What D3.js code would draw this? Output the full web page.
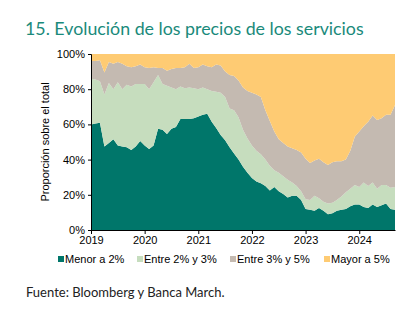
<!DOCTYPE html>
<html>
<head>
<meta charset="utf-8">
<script src="https://cdn.jsdelivr.net/npm/d3@7"></script>
<style>
  body { margin: 0; background: #fff; }
  svg { display: block; }
</style>
</head>
<body>
<svg id="chart" width="410" height="326"></svg>
<script>
// monthly shares (%), Jan 2019 .. Sep 2024
const years = ['2019', '2020', '2021', '2022', '2023', '2024'];
const seriesNames = ['Menor a 2%', 'Entre 2% y 3%', 'Entre 3% y 5%', 'Mayor a 5%'];

const menor2 = [60, 60.5, 61, 47.5, 49.5, 51.5, 48, 47.5, 47, 45.5, 47.5, 50.5,
  48, 46, 48, 57.5, 57, 54.5, 57.5, 58.5, 63, 63, 63, 63.5,
  64.5, 65.5, 66, 61.5, 58, 54, 51, 47, 43.5, 40, 36, 32.5,
  29.5, 27.5, 26.5, 25, 22.5, 24.5, 22, 20.5, 18.5, 19.5, 19.5, 17,
  12, 11.5, 11, 12.5, 11, 9, 9.5, 11, 11.5, 12, 13.5, 14.5,
  14.5, 13, 12.5, 14.5, 13, 14, 15, 12, 11.5];
const entre2y3 = [26, 25, 23.5, 29.5, 34, 28.5, 36, 32.5, 35.5, 36, 35.5, 32.5,
  35, 34, 36, 30.5, 26, 27.5, 23.5, 21.5, 18.5, 17.5, 18, 17,
  15.5, 15.5, 14, 17.5, 20.5, 24, 24.5, 22, 24.5, 24, 21, 19.5,
  18.5, 17.5, 16.5, 15, 14, 9.5, 10.5, 10, 10, 7.5, 5.5, 5,
  5.5, 5.5, 8.5, 5.5, 5, 6, 6, 6, 7.5, 9.5, 10, 11,
  10, 14, 12.5, 12.5, 10.5, 11.5, 10.5, 12, 13];
const entre3y5 = [10, 10.5, 12, 12.5, 12, 14.5, 11.5, 14.5, 10.5, 11, 10, 11,
  9.5, 12, 8.5, 4, 9, 8.5, 10.5, 12, 10.5, 12, 13.5, 11.5,
  12.5, 13, 13, 13.5, 15.5, 15.5, 14.5, 19, 19.5, 21, 24, 27,
  30, 32, 32.5, 28, 25.5, 22, 19, 19, 19, 19.5, 20.5, 22,
  23, 21, 20, 22.5, 22.5, 22, 23, 22, 20, 18.5, 21.5, 27.5,
  31.5, 32, 36.5, 38, 39, 38, 40, 41.5, 46.5];
const mayor5 = [4, 4, 3.5, 10.5, 4.5, 5.5, 4.5, 5.5, 7, 7.5, 7, 6,
  7.5, 8, 7.5, 8, 8, 9.5, 8.5, 8, 8, 7.5, 5.5, 8,
  7.5, 6, 7, 7.5, 6, 6.5, 10, 12, 12.5, 15, 19, 21,
  22, 23, 24.5, 32, 38, 44, 48.5, 50.5, 52.5, 53.5, 54.5, 56,
  59.5, 62, 60.5, 59.5, 61.5, 63, 61.5, 61, 61, 60, 55, 47,
  44, 41, 38.5, 35, 37.5, 36.5, 34.5, 34.5, 29];

const colors = ['#00766a', '#c6ddbe', '#c4bab1', '#fecb73'];

const rows = menor2.map((v, i) => ({
  i: i,
  'Menor a 2%': v,
  'Entre 2% y 3%': entre2y3[i],
  'Entre 3% y 5%': entre3y5[i],
  'Mayor a 5%': mayor5[i]
}));

const svg = d3.select('#chart');
const plotLeft = 91, plotRight = 395, plotTop = 54, plotBottom = 230;

const x = d3.scaleLinear().domain([0, rows.length - 1]).range([plotLeft, plotRight]);
const y = d3.scaleLinear().domain([0, 100]).range([plotBottom, plotTop]);

const stack = d3.stack().keys(seriesNames);
const layers = stack(rows);

const area = d3.area()
  .x(d => x(d.data.i))
  .y0(d => y(d[0]))
  .y1(d => y(d[1]));

svg.append('g').selectAll('path')
  .data(layers)
  .join('path')
  .attr('d', area)
  .attr('fill', (d, k) => colors[k]);

// title
svg.append('text')
  .attr('x', 25).attr('y', 35)
  .attr('font-family', 'Lato, sans-serif')
  .attr('font-size', 17.8)
  .attr('fill', '#1a8a7b')
  .text('15. Evolución de los precios de los servicios');

// axes
const yAxis = d3.axisLeft(y).tickValues([0, 20, 40, 60, 80, 100])
  .tickFormat(d => d + '%').tickSize(3).tickPadding(3);
const gy = svg.append('g').attr('transform', `translate(${plotLeft},0)`).call(yAxis);
gy.select('.domain').attr('stroke', '#000');
gy.selectAll('text').attr('font-family', 'Liberation Sans, Arial, sans-serif')
  .attr('font-size', 11).attr('fill', '#000');

const xAxis = d3.axisBottom(x).tickValues(years.map((d, k) => k * 12))
  .tickFormat((d, k) => years[k]).tickSize(4).tickSizeOuter(0).tickPadding(2);
const gx = svg.append('g').attr('transform', `translate(0,${plotBottom})`).call(xAxis);
gx.select('.domain').attr('stroke', '#000');
gx.selectAll('text').attr('font-family', 'Liberation Sans, Arial, sans-serif')
  .attr('font-size', 11).attr('fill', '#000');

// y label
svg.append('text')
  .attr('transform', `translate(49,${(plotTop + plotBottom) / 2}) rotate(-90)`)
  .attr('text-anchor', 'middle')
  .attr('font-family', 'Liberation Sans, Arial, sans-serif')
  .attr('font-size', 11)
  .text('Proporción sobre el total');

// legend
const legendX = [58, 137, 230, 324];
const lg = svg.append('g').selectAll('g')
  .data(seriesNames)
  .join('g')
  .attr('transform', (d, k) => `translate(${legendX[k]},263)`);
lg.append('rect').attr('x', 0).attr('y', -7).attr('width', 6).attr('height', 6)
  .attr('fill', (d, k) => colors[k]);
lg.append('text').attr('x', 7).attr('y', 0)
  .attr('font-family', 'Liberation Sans, Arial, sans-serif')
  .attr('font-size', 11)
  .text(d => d);

// source
svg.append('text')
  .attr('x', 26).attr('y', 297)
  .attr('font-family', 'Lato, sans-serif')
  .attr('font-size', 13)
  .attr('fill', '#222')
  .text('Fuente: Bloomberg y Banca March.');
</script>
</body>
</html>
